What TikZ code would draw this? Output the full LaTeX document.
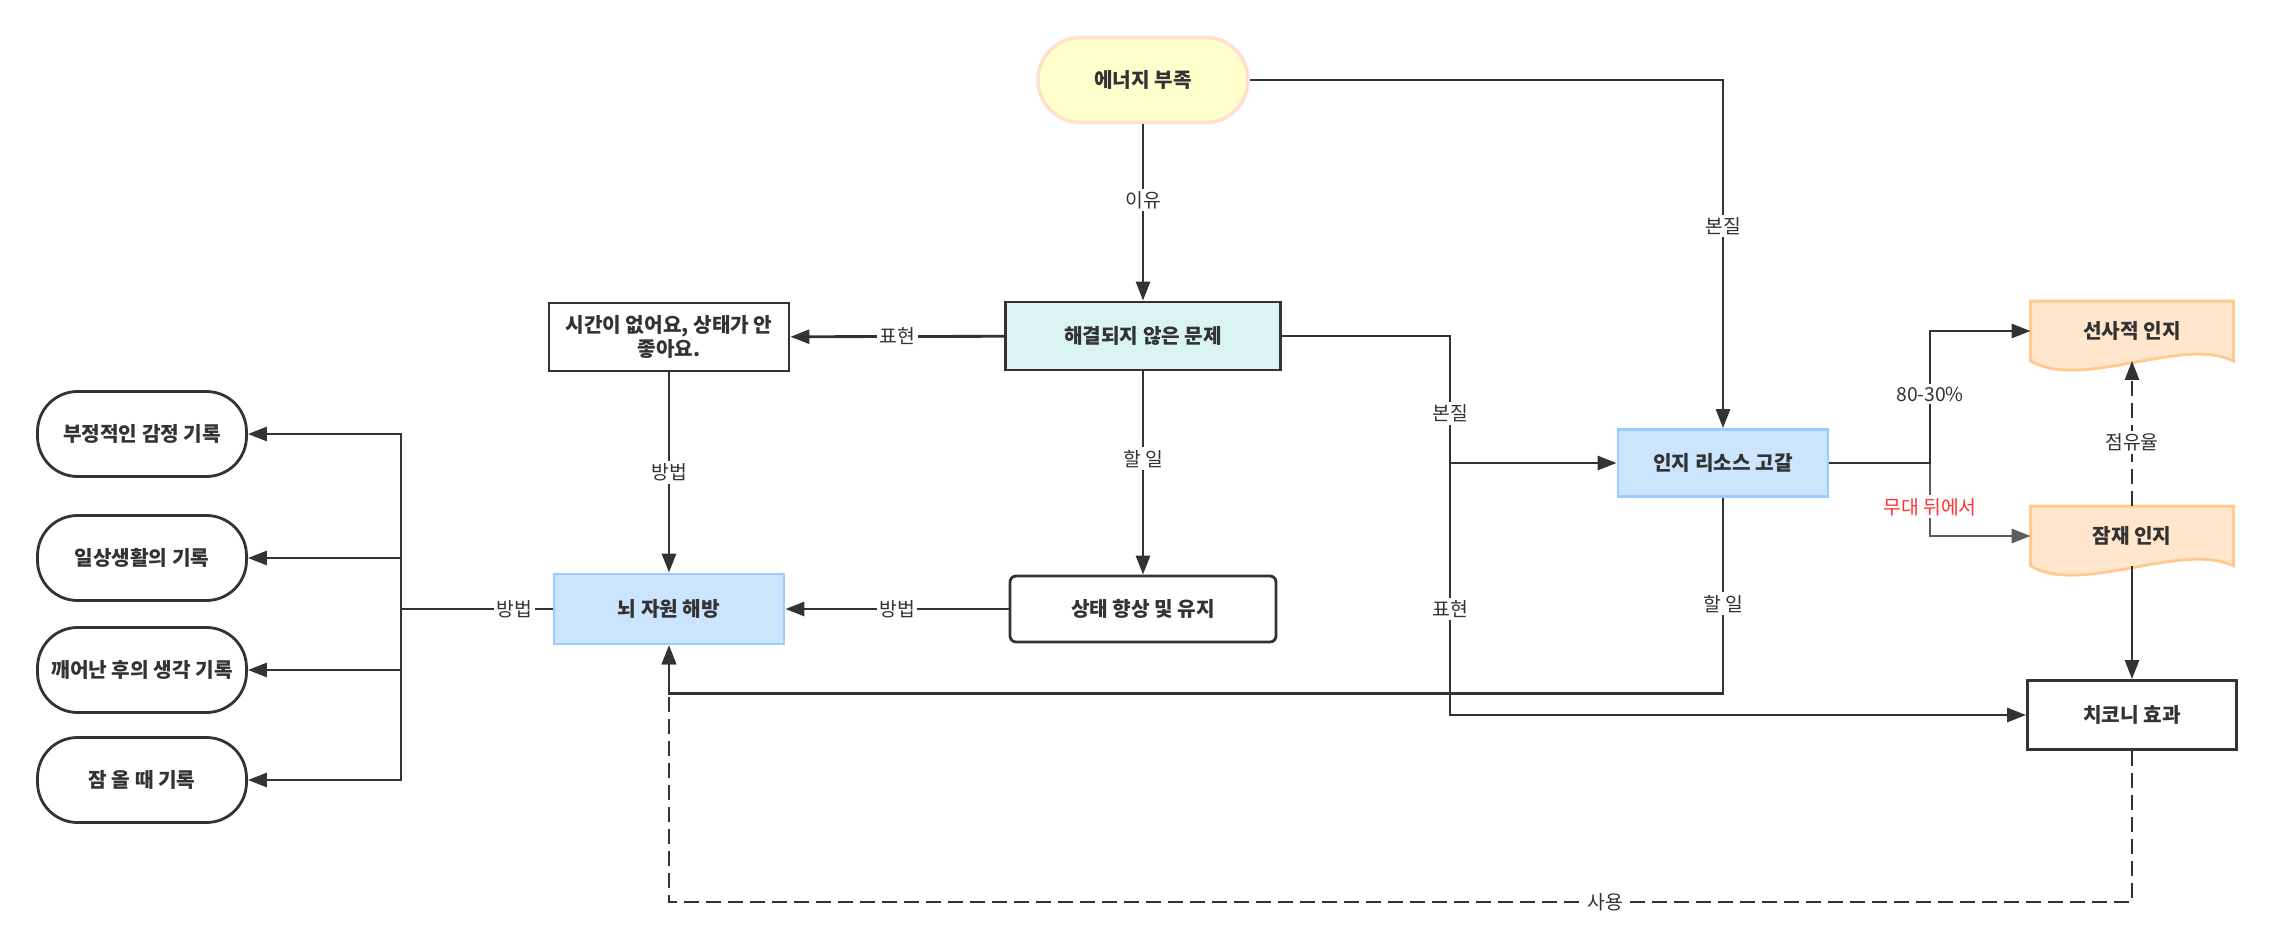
\documentclass[tikz,border=0pt]{standalone}
\usepackage{fontspec}
\setmainfont{Noto Sans CJK KR}
\usetikzlibrary{arrows.meta,backgrounds}
\definecolor{ink}{HTML}{333333}
\definecolor{lemon}{HTML}{FFFFCC}
\definecolor{peach}{HTML}{FFE0CC}
\definecolor{aqua}{HTML}{DAF4F4}
\definecolor{skyfill}{HTML}{CCE5FF}
\definecolor{skyline}{HTML}{99CCFF}
\definecolor{sandfill}{HTML}{FFE6CC}
\definecolor{sandline}{HTML}{FFC98F}
\definecolor{alert}{HTML}{FF3333}
\begin{document}
\begin{tikzpicture}[x=0.02cm,y=-0.02cm,>={Triangle[length=0.38cm,width=0.28cm]},
  every node/.style={text=ink},
  line/.style={draw=ink,line width=1.6pt},
  conn/.style={line,->},
  dashline/.style={dash pattern=on 0.3cm off 0.14cm},
  lbl/.style={fill=white,font=\fontsize{11}{13}\selectfont,inner sep=1.5pt},
  box/.style={draw=ink,line width=1.6pt,font=\fontsize{11.5}{14}\selectfont\bfseries,align=center,inner sep=2pt},
  term/.style={box,draw=peach,fill=lemon,line width=2pt,rounded corners=0.85cm,minimum width=4.2cm,minimum height=1.7cm},
  record/.style={box,rounded corners=0.8cm,minimum width=4.18cm,minimum height=1.7cm},
  resource/.style={box,draw=skyline,fill=skyfill},
  docnode/.style={box,draw=none,minimum width=4cm,minimum height=1.14cm},
  docline/.style={draw=sandline,fill=sandfill,line width=1.6pt}]
  \useasboundingbox (0,0) rectangle (2273,950);

  % nodes
  \node[term] (energy) at (1143,80) {에너지 부족};
  \node[box,fill=aqua,minimum width=5.5cm,minimum height=1.36cm] (problem) at (1143,336) {해결되지 않은 문제};
  \node[box,minimum width=4.8cm,minimum height=1.36cm] (notime) at (669,337) {시간이 없어요, 상태가 안\\좋아요.};
  \node[resource,minimum width=4.2cm,minimum height=1.34cm] (cogres) at (1723,463) {인지 리소스 고갈};
  \node[resource,minimum width=4.6cm,minimum height=1.4cm] (brain) at (669,609) {뇌 자원 해방};
  \node[box,rounded corners=0.12cm,minimum width=5.32cm,minimum height=1.32cm] (state) at (1143,609) {상태 향상 및 유지};
  \node[docnode] (prehist) at (2132,331) {선사적 인지};
  \node[docnode] (latent) at (2132,536) {잠재 인지};
  \node[box,minimum width=4.18cm,minimum height=1.38cm] (zeigarnik) at (2132,715) {치코니 효과};
  \node[record] (rec1) at (142,434) {부정적인 감정 기록};
  \node[record] (rec2) at (142,558) {일상생활의 기록};
  \node[record] (rec3) at (142,670) {깨어난 후의 생각 기록};
  \node[record] (rec4) at (142,780) {잠 올 때 기록};

  \begin{scope}[on background layer]
    \foreach \d in {prehist,latent}
      \path[docline] (\d.north west) -- (\d.north east) -- (\d.south east)
        .. controls ([xshift=-1cm,yshift=0.5cm]\d.south east) and ([xshift=1cm,yshift=-0.6cm]\d.south west) .. (\d.south west) -- cycle;
  \end{scope}

  \coordinate (tap) at (1450,336);
  \coordinate (split) at (1930,463);
  \coordinate (bus) at (401,609);

  % connectors
  \draw[conn] (energy) -- node[lbl,pos=0.43]{이유} (problem);
  \draw[conn] (energy) -| node[lbl,pos=0.71]{본질} (cogres);
  \draw[conn] (problem) -- node[lbl]{표현} (notime);
  \draw[conn] (notime) -- node[lbl]{방법} (brain);
  \draw[conn] (problem) -- node[lbl,pos=0.43]{할 일} (state);
  \draw[conn] (state) -- node[lbl]{방법} (brain);
  \draw[conn] (problem.east) -- (tap) |- node[lbl,pos=0.36]{표현} (zeigarnik.west);
  \draw[conn] (problem.east) -- (tap) |- node[lbl,pos=0.305]{본질} (cogres.west);
  \draw[conn] (cogres.south) -- node[lbl,pos=0.54]{할 일} ++(0,196) -| (brain.south);
  \draw[conn,draw=ink!80] (cogres.east) -- (split) |- node[lbl,pos=0.3,text=alert]{무대 뒤에서} (latent.west);
  \draw[conn] (cogres.east) -- (split) |- node[lbl,pos=0.26]{80-30\%} (prehist.west);
  \draw[conn,dashline] (latent) -- node[lbl,pos=0.44]{점유율} (prehist);
  \draw[conn] (latent) -- (zeigarnik);
  \draw[conn,dashline] (zeigarnik.south) -- ++(0,151) -| node[lbl,pos=0.18]{사용} (brain.south);
  \draw[line] (brain.west) -- node[lbl,pos=0.25]{방법} (bus);
  \foreach \r in {rec1,rec2,rec3,rec4}
    \draw[conn] (bus) |- (\r.east);
\end{tikzpicture}
\end{document}
